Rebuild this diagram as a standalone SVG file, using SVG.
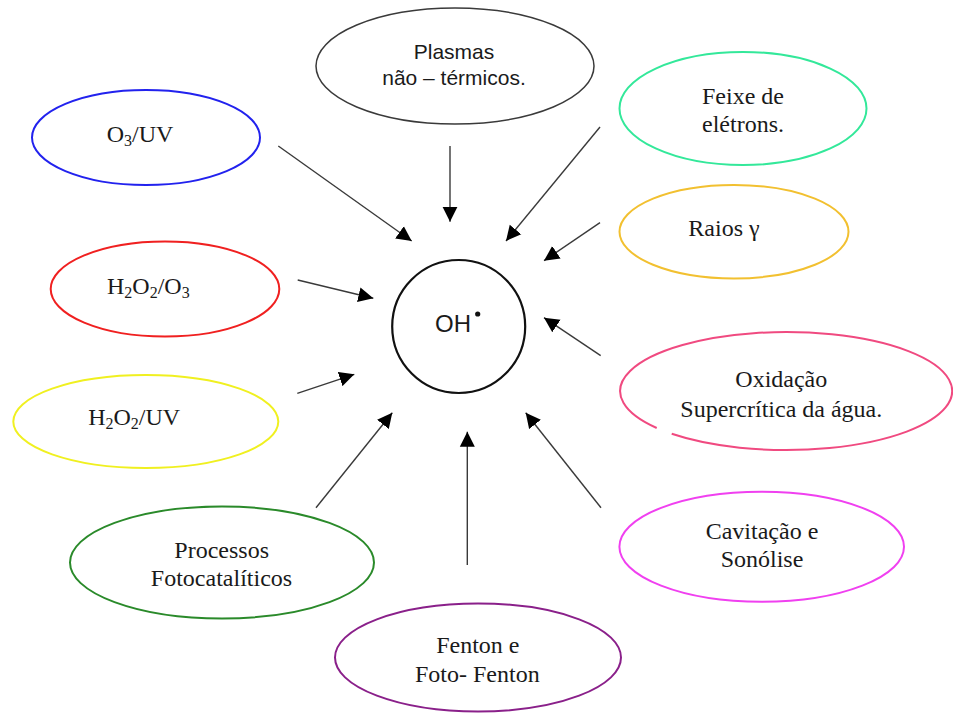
<svg xmlns="http://www.w3.org/2000/svg" width="953" height="713" viewBox="0 0 953 713">
<style>
.n{fill:none;stroke-width:2}
.t{font-family:"Liberation Serif","Times New Roman",serif;font-size:24px;fill:#1a1a1a;text-anchor:middle}
.s{font-family:"Liberation Sans",Arial,sans-serif;fill:#1a1a1a;text-anchor:middle}
.c line{stroke:#3a3a3a;stroke-width:1.4;marker-end:url(#ah)}
</style>
<defs>
<marker id="ah" viewBox="0 0 16 16" refX="15" refY="8" markerWidth="16" markerHeight="16" markerUnits="userSpaceOnUse" orient="auto">
<path d="M0,0.5 L15,8 L0,15.5 z" fill="#000"/>
</marker>
</defs>
<rect width="953" height="713" fill="#fff"/>

<g id="center">
<circle cx="458.7" cy="326.5" r="66.5" fill="none" stroke="#111" stroke-width="2.2"/>
<text class="s" x="453" y="332" font-size="24">OH</text>
<circle cx="477.7" cy="314" r="2.6" fill="#111"/>
</g>

<g id="o3uv">
<ellipse class="n" cx="146" cy="137.5" rx="114" ry="47.5" stroke="#2222ee"/>
<text class="t" x="140" y="141.5">O<tspan font-size="16" dy="4">3</tspan><tspan dy="-4">/UV</tspan></text>
</g>

<g id="plasmas">
<ellipse cx="455" cy="66" rx="139" ry="58" fill="none" stroke="#3a3a3a" stroke-width="1.5"/>
<text class="s" x="454" y="59" font-size="21">Plasmas</text>
<text class="s" x="454" y="85" font-size="21">não – térmicos.</text>
</g>

<g id="feixe">
<ellipse class="n" cx="743" cy="108.5" rx="123.5" ry="56.5" stroke="#33e89a"/>
<text class="t" x="743" y="103.5">Feixe de</text>
<text class="t" x="743" y="131.5">elétrons.</text>
</g>

<g id="raios">
<ellipse class="n" cx="734" cy="231.7" rx="114.5" ry="46.7" stroke="#f2c030"/>
<text class="t" x="724" y="236">Raios γ</text>
</g>

<g id="h2o2o3">
<ellipse class="n" cx="165" cy="289" rx="114.3" ry="47.5" stroke="#f02020"/>
<text class="t" x="148.3" y="294">H<tspan font-size="16" dy="4">2</tspan><tspan dy="-4">O</tspan><tspan font-size="16" dy="4">2</tspan><tspan dy="-4">/O</tspan><tspan font-size="16" dy="4">3</tspan></text>
</g>

<g id="h2o2uv">
<ellipse class="n" cx="145.8" cy="421.5" rx="132.5" ry="46.5" stroke="#f0f020"/>
<text class="t" x="134.2" y="425">H<tspan font-size="16" dy="4">2</tspan><tspan dy="-4">O</tspan><tspan font-size="16" dy="4">2</tspan><tspan dy="-4">/UV</tspan></text>
</g>

<g id="oxidacao">
<path class="n" d="M 671.7 433.8 A 166 59 0 1 0 656.7 428" stroke="#f04a80"/>
<text class="t" x="781.3" y="386.7">Oxidação</text>
<text class="t" x="781.3" y="416.7">Supercrítica da água.</text>
</g>

<g id="cavitacao">
<ellipse class="n" cx="761.7" cy="546.7" rx="142.3" ry="55" stroke="#f040f0"/>
<text class="t" x="762" y="539.3">Cavitação e</text>
<text class="t" x="762" y="567.3">Sonólise</text>
</g>

<g id="processos">
<ellipse class="n" cx="222" cy="562.5" rx="152" ry="56" stroke="#2a8a2a"/>
<text class="t" x="221.7" y="558.3">Processos</text>
<text class="t" x="221.5" y="586">Fotocatalíticos</text>
</g>

<g id="fenton">
<ellipse class="n" cx="478" cy="657.5" rx="143" ry="54" stroke="#8a208a" stroke-width="1.6"/>
<text class="t" x="477.8" y="653.3">Fenton e</text>
<text class="t" x="477.3" y="681.7">Foto- Fenton</text>
</g>

<g id="connectors" class="c">
<line x1="278.3" y1="146" x2="411.7" y2="241"/>
<line x1="450" y1="146" x2="450" y2="221.7"/>
<line x1="600" y1="127" x2="506" y2="241"/>
<line x1="600" y1="222.7" x2="544" y2="260.7"/>
<line x1="297.7" y1="280" x2="373.3" y2="298.3"/>
<line x1="297.3" y1="393.3" x2="354.3" y2="374.3"/>
<line x1="600.7" y1="355.7" x2="544" y2="317.7"/>
<line x1="316" y1="507.7" x2="392.3" y2="412.7"/>
<line x1="467.3" y1="565" x2="467.3" y2="431.7"/>
<line x1="601" y1="507.7" x2="525.7" y2="412.7"/>
</g>
</svg>
